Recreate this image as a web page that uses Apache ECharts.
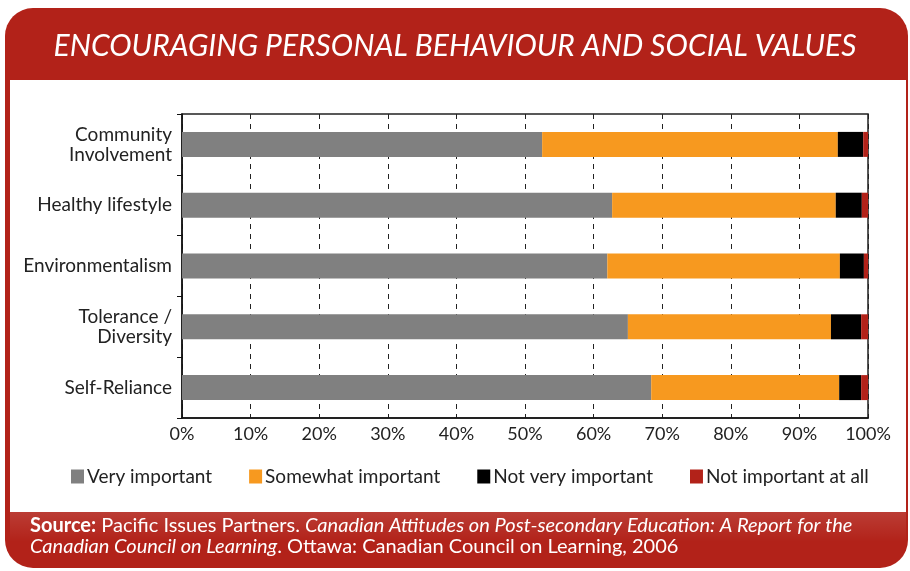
<!DOCTYPE html>
<html>
<head>
<meta charset="utf-8">
<script src="https://cdn.jsdelivr.net/npm/echarts@6/dist/echarts.min.js"></script>
<style>
  html, body { margin: 0; padding: 0; background: #fff; }
  #main { width: 910px; height: 571px; }
</style>
</head>
<body>
<div id="main"></div>
<script>
var categories = ['Community\nInvolvement', 'Healthy lifestyle', 'Environmentalism', 'Tolerance /\nDiversity', 'Self-Reliance'];
var seriesNames = ['Very important', 'Somewhat important', 'Not very important', 'Not important at all'];
var veryImportant = [52.5, 62.7, 62.0, 65.0, 68.4];
var somewhatImportant = [43.1, 32.6, 33.9, 29.6, 27.4];
var notVeryImportant = [3.7, 3.8, 3.5, 4.4, 3.2];
var notImportantAtAll = [0.7, 0.9, 0.6, 1.0, 1.0];
var xTicks = [0, 10, 20, 30, 40, 50, 60, 70, 80, 90, 100];

var red = '#b22219';
var colors = ['#808080', '#f7991f', '#000000', red];
var font = 'Lato';

var myChart = echarts.init(document.getElementById('main'));

function bar(i, data) {
    return {
        name: seriesNames[i],
        type: 'bar',
        stack: 'total',
        barWidth: 25,
        itemStyle: { color: colors[i] },
        data: data
    };
}

var option = {
    animation: false,
    backgroundColor: '#fff',
    graphic: [
        { type: 'rect', z: -10, shape: { x: 5, y: 8, width: 903, height: 560, r: 28 }, style: { fill: red } },
        { type: 'rect', z: -9, shape: { x: 10, y: 80, width: 896, height: 432 }, style: { fill: '#fff' } },
        {
            type: 'rect', z: -9, shape: { x: 10, y: 512, width: 896, height: 30 },
            style: {
                fill: new echarts.graphic.LinearGradient(0, 0, 0, 1, [
                    { offset: 0, color: 'rgba(255,255,255,0.12)' },
                    { offset: 1, color: 'rgba(255,255,255,0)' }
                ])
            }
        },
        {
            type: 'text', left: 'center', top: 31,
            style: {
                text: 'ENCOURAGING PERSONAL BEHAVIOUR AND SOCIAL VALUES',
                fill: '#fff', font: 'italic 30px ' + font
            }
        },
        {
            type: 'text', left: 30, top: 515,
            style: {
                text: '{b|Source:} Pacific Issues Partners. {i|Canadian Attitudes on Post-secondary Education: A Report for the}\n{i|Canadian Council on Learning}. Ottawa: Canadian Council on Learning, 2006',
                fill: '#fff', fontFamily: font, fontSize: 20, lineHeight: 21,
                rich: {
                    b: { fontWeight: 'bold', fill: '#fff', fontFamily: font, fontSize: 20, lineHeight: 21 },
                    i: { fontStyle: 'italic', fill: '#fff', fontFamily: font, fontSize: 20, lineHeight: 21 }
                }
            }
        }
    ],
    legend: {
        left: 66,
        top: 462,
        itemWidth: 13,
        itemHeight: 14,
        itemGap: 37,
        icon: 'rect',
        data: seriesNames,
        textStyle: { color: '#222', fontSize: 19, fontFamily: font, padding: [0, 0, 0, -2] }
    },
    grid: {
        left: 182, right: 42, top: 114, bottom: 153,
        show: true, borderColor: '#222', borderWidth: 1.5, backgroundColor: 'transparent'
    },
    xAxis: {
        type: 'value',
        min: xTicks[0],
        max: xTicks[xTicks.length - 1],
        interval: 10,
        axisLine: { show: true, lineStyle: { color: '#111', width: 1.5 } },
        axisTick: { show: false },
        axisLabel: { formatter: '{value}%', color: '#222', fontSize: 18, fontFamily: font, margin: 7 },
        splitLine: { show: true, lineStyle: { color: '#222', type: [5, 5], width: 1 } }
    },
    yAxis: {
        type: 'category',
        inverse: true,
        data: categories,
        axisLine: { show: true, lineStyle: { color: '#111', width: 1.5 } },
        axisTick: { show: true, interval: 0, length: 5, lineStyle: { color: '#111' } },
        axisLabel: { color: '#222', fontSize: 19, fontFamily: font, margin: 10, lineHeight: 20 }
    },
    series: [
        bar(0, veryImportant),
        bar(1, somewhatImportant),
        bar(2, notVeryImportant),
        bar(3, notImportantAtAll)
    ]
};
myChart.setOption(option);
</script>
</body>
</html>
